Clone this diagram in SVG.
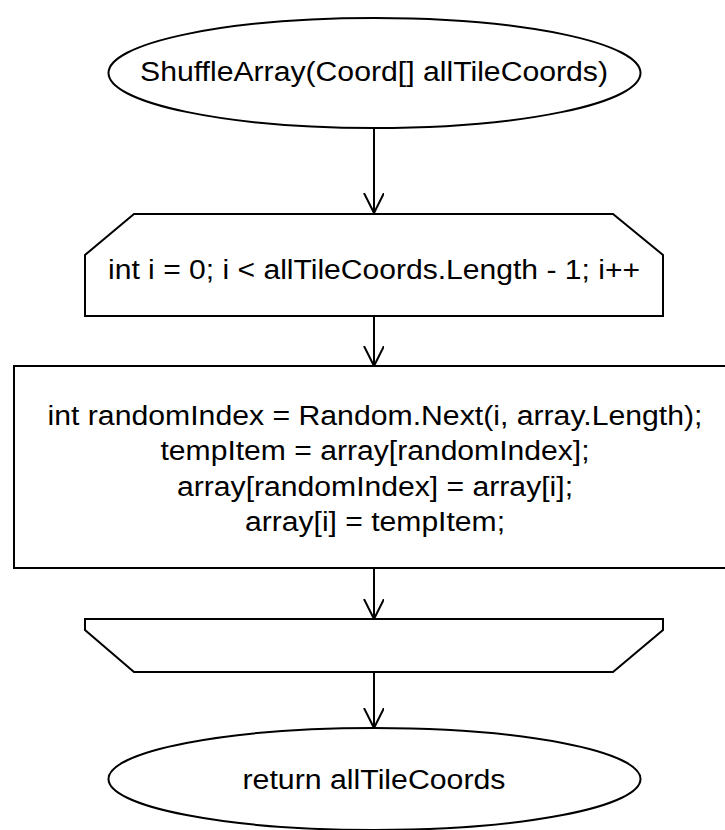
<svg xmlns="http://www.w3.org/2000/svg" width="725" height="830" viewBox="0 0 725 830">
<style>
.shape{fill:#fff;stroke:#000;stroke-width:2}
.edge{fill:none;stroke:#000;stroke-width:2}
text{font-family:"Liberation Sans",Arial,sans-serif;font-size:27px;fill:#000;text-anchor:middle}
</style>
<defs>
<marker id="arr" markerWidth="24" markerHeight="24" refX="20" refY="10" orient="auto" markerUnits="userSpaceOnUse">
<path d="M0,0 L20,10 L0,20" fill="none" stroke="#000" stroke-width="2"/>
</marker>
</defs>
<rect width="725" height="830" fill="#fff"/>
<g id="connectors">
<line class="edge" x1="374" y1="128" x2="374" y2="213" marker-end="url(#arr)"/>
<line class="edge" x1="374" y1="316" x2="374" y2="366" marker-end="url(#arr)"/>
<line class="edge" x1="374" y1="568" x2="374" y2="619" marker-end="url(#arr)"/>
<line class="edge" x1="374" y1="672" x2="374" y2="728" marker-end="url(#arr)"/>
</g>
<g id="start">
<ellipse class="shape" cx="374.5" cy="73" rx="266" ry="55"/>
<text x="374" y="81" textLength="468" lengthAdjust="spacingAndGlyphs">ShuffleArray(Coord[] allTileCoords)</text>
</g>
<g id="loopStart">
<polygon class="shape" points="134,214 613,214 663,255 663,316 85,316 85,255"/>
<text x="374" y="279" textLength="532" lengthAdjust="spacingAndGlyphs">int i = 0; i &lt; allTileCoords.Length - 1; i++</text>
</g>
<g id="body">
<rect class="shape" x="14" y="366" width="720" height="202"/>
<text x="375" y="425" textLength="655" lengthAdjust="spacingAndGlyphs">int randomIndex = Random.Next(i, array.Length);</text>
<text x="375" y="460" textLength="429" lengthAdjust="spacingAndGlyphs">tempItem = array[randomIndex];</text>
<text x="375" y="496" textLength="396" lengthAdjust="spacingAndGlyphs">array[randomIndex] = array[i];</text>
<text x="375" y="531" textLength="260" lengthAdjust="spacingAndGlyphs">array[i] = tempItem;</text>
</g>
<g id="loopEnd">
<polygon class="shape" points="85,619 663,619 663,630 613,672 134,672 85,630"/>
</g>
<g id="end">
<ellipse class="shape" cx="374.5" cy="779" rx="266" ry="51"/>
<text x="374" y="789" textLength="263" lengthAdjust="spacingAndGlyphs">return allTileCoords</text>
</g>
</svg>
